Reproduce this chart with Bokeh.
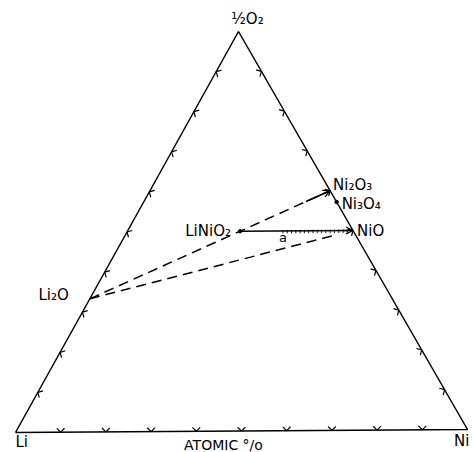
import numpy as np
from bokeh.plotting import figure
from bokeh.models import Range1d, Arrow, OpenHead, ColumnDataSource
from bokeh.embed import file_html
from bokeh.resources import INLINE
from bokeh.core.properties import value

# ---- data: atomic fractions (Li, Ni, O) ----
compound_names = ["Li₂O", "LiNiO₂", "NiO", "Ni₃O₄", "Ni₂O₃"]
frac_li = [2/3, 1/4, 0.0, 0.0, 0.0]
frac_ni = [0.0, 1/4, 1/2, 3/7, 2/5]
frac_o = [1/3, 1/2, 1/2, 4/7, 3/5]
tick_fracs = [0.1, 0.2, 0.3, 0.4, 0.5, 0.6, 0.7, 0.8, 0.9]
vertex_labels = ["Li", "Ni", "½O₂"]
axis_title = "ATOMIC °/o"
path_label = "a"

# ---- layout (screen placement of the triangle corners) ----
V_LI = np.array([15.0, 432.0])
V_NI = np.array([467.0, 429.0])
V_O = np.array([238.0, 31.0])


def tern(li, ni, o):
    s = li + ni + o
    return (li * V_LI + ni * V_NI + o * V_O) / s


pts = {n: tern(a, b, c) for n, a, b, c in zip(compound_names, frac_li, frac_ni, frac_o)}

p = figure(width=474, height=452, output_backend="svg", toolbar_location=None,
           x_range=Range1d(0, 474), y_range=Range1d(452, 0), min_border=0)
p.axis.visible = False
p.grid.visible = False
p.outline_line_color = None

FONT = value("DejaVu Sans")
LW = 1.5

# triangle
tri = [V_LI, V_NI, V_O, V_LI]
p.line([v[0] for v in tri], [v[1] for v in tri], line_color="black", line_width=LW)

# chevron ticks pointing outward
centroid = (V_LI + V_NI + V_O) / 3
xs, ys = [], []
L = 5.5
for A, B in [(V_LI, V_NI), (V_NI, V_O), (V_O, V_LI)]:
    u = (B - A) / np.linalg.norm(B - A)
    n = np.array([-u[1], u[0]])
    if np.dot(centroid - A, n) < 0:
        n = -n
    for t in tick_fracs:
        P = A + t * (B - A)
        a1 = P + L * (n * 0.7071 + u * 0.7071)
        a2 = P + L * (n * 0.7071 - u * 0.7071)
        xs.append([a1[0], P[0], a2[0]])
        ys.append([a1[1], P[1], a2[1]])
p.multi_line(xs, ys, line_color="black", line_width=1.2)

li2o, linio2, nio, ni3o4, ni2o3 = (pts[n] for n in compound_names)

# dashed tie lines
p.line([li2o[0], ni2o3[0]], [li2o[1], ni2o3[1]], line_color="black",
       line_width=LW, line_dash="10 6")
end_low = li2o + 0.92 * (nio - li2o)
p.line([li2o[0], end_low[0]], [li2o[1], end_low[1]], line_color="black",
       line_width=LW, line_dash="10 6")

# arrow heads
p.add_layout(Arrow(end=OpenHead(size=7, line_width=1.2, line_color="black"),
                   x_start=li2o[0] + 0.9 * (ni2o3[0] - li2o[0]),
                   y_start=li2o[1] + 0.9 * (ni2o3[1] - li2o[1]),
                   x_end=ni2o3[0], y_end=ni2o3[1], line_color="black", line_width=LW))

# LiNiO2 -> NiO path: solid then hatched
p.line([linio2[0], nio[0]], [linio2[1], nio[1]], line_color="black", line_width=LW)
hx, hy = [], []
for t in np.linspace(0.38, 0.95, 16):
    q = linio2 + t * (nio - linio2)
    hx.append([q[0], q[0]])
    hy.append([q[1] - 1.0, q[1] + 2.5])
p.multi_line(hx, hy, line_color="black", line_width=0.9)
p.add_layout(Arrow(end=OpenHead(size=7, line_width=1.2, line_color="black"),
                   x_start=nio[0] - 10, y_start=nio[1],
                   x_end=nio[0], y_end=nio[1], line_color="black", line_width=LW))

# points
p.scatter([linio2[0], ni3o4[0]], [linio2[1], ni3o4[1]], size=3.5, color="black")

# compound labels
lab = ColumnDataSource(dict(
    x=[li2o[0] - 21, linio2[0] - 9, nio[0] + 4, ni3o4[0] + 5, ni2o3[0] + 3],
    y=[li2o[1] - 4, linio2[1], nio[1], ni3o4[1] + 2, ni2o3[1] - 6],
    text=compound_names,
    align=["right", "right", "left", "left", "left"],
))
p.text(x="x", y="y", text="text", text_align="align", text_baseline="middle",
       source=lab, text_font=FONT, text_font_size="15px", text_color="black")

# path label
mid = linio2 + 0.38 * (nio - linio2)
p.text([mid[0]], [mid[1] + 7], text=[path_label], text_align="center",
       text_baseline="middle", text_font=FONT, text_font_size="13px")

# vertex labels
p.text([V_LI[0], V_NI[0] + 2, V_O[0] + 9],
       [V_LI[1] + 9, V_NI[1] + 11, V_O[1] - 13],
       text=vertex_labels, text_align=["left", "right", "center"],
       text_baseline="middle", text_font=FONT, text_font_size="15px")

p.text([(V_LI[0] + V_NI[0]) / 2 - 18], [452], text=[axis_title], text_align="center",
       text_baseline="bottom", text_font=FONT, text_font_size="14px")

open("out.html", "w").write(file_html(p, INLINE))
